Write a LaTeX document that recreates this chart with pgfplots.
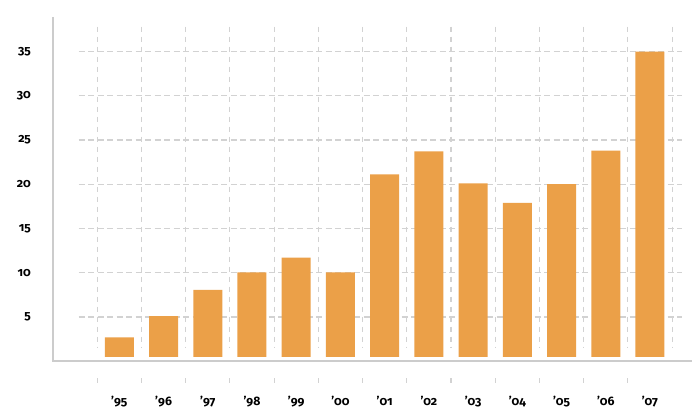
\documentclass[border=0pt]{standalone}
\usepackage{fontspec}
\setmainfont{Fira Sans}[Numbers=OldStyle]
\usepackage{pgfplots}
\pgfplotsset{compat=1.18}
\definecolor{barc}{HTML}{EBA048}
\definecolor{gridc}{HTML}{D2D2D2}
\definecolor{axc}{HTML}{CCCCCC}
\begin{document}
\begin{tikzpicture}
\useasboundingbox (0,0) rectangle (695bp,408bp);
\begin{axis}[
  at={(53bp,46.8bp)}, anchor=south west,
  scale only axis, width=639bp, height=344.2bp,
  xmin=-1.5, xmax=12.95, ymin=0, ymax=38.9,
  axis line style={draw=none},
  major tick length=0pt,
  xtick={0,1,2,3,4,5,6,7,8,9,10,11,12},
  xticklabels={'95,'96,'97,'98,'99,'00,'01,'02,'03,'04,'05,'06,'07},
  ytick={5,10,15,20,25,30,35},
  ticklabel style={font=\fontsize{12.3}{14}\selectfont\bfseries},
  /pgf/number format/assume math mode=true,
  yticklabel style={anchor=east, inner sep=0pt, xshift=-22bp},
  xticklabel style={anchor=north, inner sep=0pt, yshift=-35bp},
  clip=false,
]
\pgfplotsinvokeforeach{5,10,15,20,25,30,35}{
  \draw[gridc, line width=1.1bp, dash pattern=on 6bp off 3.5bp] (axis cs:-0.92,#1) -- (axis cs:12.73,#1);
}
\pgfplotsinvokeforeach{-0.5,0.5,1.5,2.5,3.5,4.5,5.5,6.5,7.5,8.5,9.5,10.5,11.5,12.5}{
  \draw[gridc, line width=1.1bp, dash pattern=on 5bp off 5bp] (axis cs:#1,37.8) -- (axis cs:#1,1.5);
}
\pgfplotsinvokeforeach{-0.5,0.5,1.5,2.5,3.5,4.5,5.5,6.5,7.5,8.5,9.5,10.5,11.5}{
  \draw[gridc, line width=1.1bp] (axis cs:#1,-1.9) -- (axis cs:#1,-2.5);
}
\addplot[ybar, bar width=29bp, fill=barc, draw=none] coordinates {
  (0,2.7) (1,5.1) (2,8.05) (3,10.05) (4,11.7) (5,10.05) (6,21.1)
  (7,23.7) (8,20.1) (9,17.9) (10,20.0) (11,23.8) (12,35)
};
\fill[white] (axis cs:-1.4,0) rectangle (axis cs:12.9,0.45);
\draw[axc, line width=1.8bp] (axis cs:-1.5,38.9) -- (axis cs:-1.5,0) -- (axis cs:12.95,0);
\end{axis}
\end{tikzpicture}
\end{document}
